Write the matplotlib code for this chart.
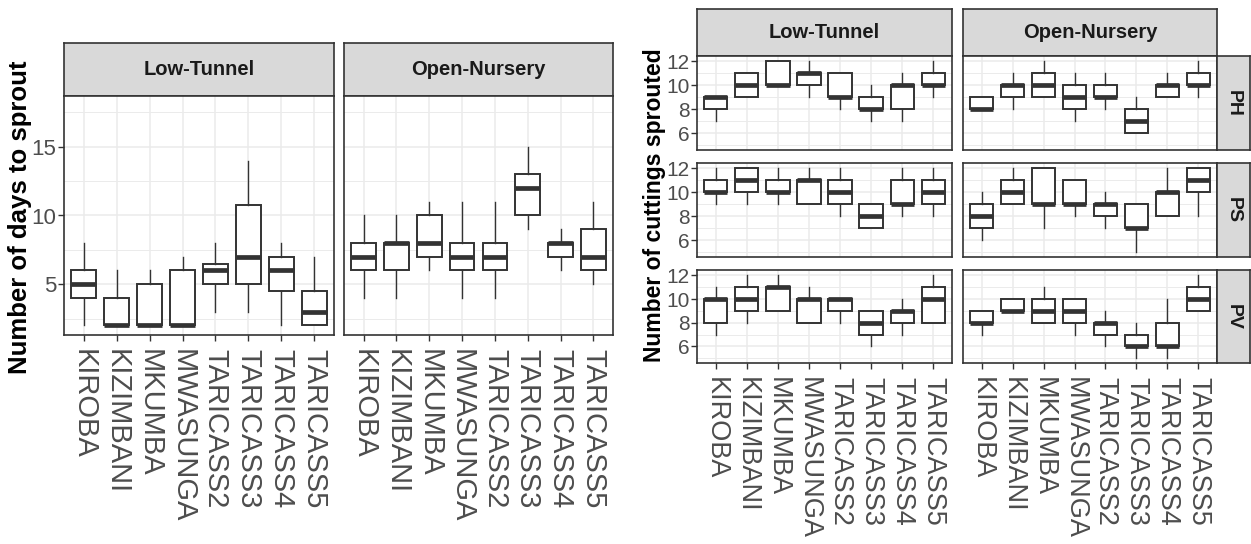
import matplotlib.pyplot as plt
import numpy as np

varieties = ['KIROBA', 'KIZIMBANI', 'MKUMBA', 'MWASUNGA',
             'TARICASS2', 'TARICASS3', 'TARICASS4', 'TARICASS5']

# each row: lower whisker, Q1, median, Q3, upper whisker
days_low_tunnel = [[2, 4, 5, 6, 8], [2, 2, 2, 4, 6], [2, 2, 2, 5, 6], [2, 2, 2, 6, 7],
                   [3, 5, 6, 6.5, 8], [3, 5, 7, 10.75, 14], [2, 4.5, 6, 7, 8], [2, 2, 3, 4.5, 7]]
days_open_nursery = [[4, 6, 7, 8, 10], [4, 6, 8, 8, 10], [6, 7, 8, 10, 11], [4, 6, 7, 8, 11],
                     [4, 6, 7, 8, 11], [9, 10, 12, 13, 15], [6, 7, 8, 8, 9], [5, 6, 7, 9, 11]]

ph_low_tunnel = [[7, 8, 9, 9, 9], [9, 9, 10, 11, 11], [10, 10, 10, 12, 12], [9, 10, 11, 11, 12],
                 [8, 9, 9, 11, 11], [7, 8, 8, 9, 10], [7, 8, 10, 10, 11], [9, 10, 10, 11, 12]]
ph_open_nursery = [[8, 8, 8, 9, 9], [8, 9, 10, 10, 11], [9, 9, 10, 11, 12], [7, 8, 9, 10, 11],
                   [8, 9, 9, 10, 11], [6, 6, 7, 8, 9], [9, 9, 10, 10, 11], [9, 10, 10, 11, 12]]
ps_low_tunnel = [[9, 10, 10, 11, 12], [9, 10, 11, 12, 12], [9, 10, 10, 11, 12], [9, 9, 11, 11, 12],
                 [8, 9, 10, 11, 12], [7, 7, 8, 9, 9], [8, 9, 9, 11, 12], [8, 9, 10, 11, 12]]
ps_open_nursery = [[6, 7, 8, 9, 10], [9, 9, 10, 11, 12], [7, 9, 9, 12, 12], [8, 9, 9, 11, 11],
                   [7, 8, 9, 9, 10], [5, 7, 7, 9, 9], [8, 8, 10, 10, 12], [8, 10, 11, 12, 12]]
pv_low_tunnel = [[7, 8, 10, 10, 11], [8, 9, 10, 11, 12], [9, 9, 11, 11, 12], [8, 8, 10, 10, 11],
                 [8, 9, 10, 10, 10], [6, 7, 8, 9, 9], [7, 8, 9, 9, 10], [8, 8, 10, 11, 12]]
pv_open_nursery = [[7, 8, 8, 9, 9], [9, 9, 9, 10, 10], [8, 8, 9, 10, 11], [7, 8, 9, 10, 10],
                   [6, 7, 8, 8, 9], [5, 6, 6, 7, 8], [5, 6, 6, 8, 10], [9, 9, 10, 11, 12]]

W, H = 1251, 544
EDGE = '#333333'
GRID = '#EBEBEB'
NARROW = ['Liberation Sans Narrow', 'Liberation Sans', 'DejaVu Sans']
REG = ['Liberation Sans', 'DejaVu Sans']

fig = plt.figure(figsize=(W / 100, H / 100), dpi=100)


def add_px(x0, y0, x1, y1):
    return fig.add_axes([x0 / W, 1 - y1 / H, (x1 - x0) / W, (y1 - y0) / H])


def strip(x0, y0, x1, y1, label, rot=0, size=14.5):
    ax = add_px(x0, y0, x1, y1)
    ax.set_facecolor('#D9D9D9')
    ax.set_xticks([])
    ax.set_yticks([])
    for s in ax.spines.values():
        s.set_color(EDGE)
        s.set_linewidth(1.2)
    fam = NARROW if rot == 0 else REG
    ax.text(0.5, 0.5, label, transform=ax.transAxes, ha='center', va='center',
            rotation=rot, fontsize=size, fontweight='bold', color='#1A1A1A', family=fam)
    return ax


def panel(x0, y0, x1, y1, rows, ylim, major, minor, show_y, show_x, xsize, ysize):
    ax = add_px(x0, y0, x1, y1)
    stats = [dict(whislo=r[0], q1=r[1], med=r[2], q3=r[3], whishi=r[4]) for r in rows]
    ax.bxp(stats, positions=np.arange(1, len(rows) + 1), widths=0.75,
           showfliers=False, showcaps=False, patch_artist=True, manage_ticks=False,
           boxprops=dict(facecolor='white', edgecolor=EDGE, linewidth=1.4),
           whiskerprops=dict(color=EDGE, linewidth=1.0),
           medianprops=dict(color=EDGE, linewidth=3.4, solid_capstyle='butt'))
    ax.set_xlim(0.4, len(rows) + 0.6)
    ax.set_ylim(*ylim)
    ax.set_axisbelow(True)
    ax.set_xticks(np.arange(1, len(rows) + 1))
    ax.set_yticks(major)
    ax.set_yticks(minor, minor=True)
    ax.grid(which='major', color=GRID, linewidth=1.1)
    ax.grid(which='minor', axis='y', color=GRID, linewidth=0.7)
    ax.tick_params(which='minor', length=0)
    ax.tick_params(which='major', length=4, width=1, color=EDGE)
    for s in ax.spines.values():
        s.set_color(EDGE)
        s.set_linewidth(1.2)
    if show_x:
        ax.set_xticklabels(varieties, rotation=270, fontsize=xsize, color='#4D4D4D',
                           family=REG, va='top', ha='center')
        ax.tick_params(axis='x', pad=6)
    else:
        ax.tick_params(axis='x', length=0, labelbottom=False)
    if show_y:
        ax.set_yticklabels([str(v) for v in major], fontsize=ysize, color='#4D4D4D',
                           family=NARROW)
        ax.tick_params(axis='y', pad=1.5)
    else:
        ax.tick_params(axis='y', length=0, labelleft=False)
    return ax


# left chart: days to sprout
strip(64, 43, 334, 96, 'Low-Tunnel')
strip(344, 43, 613, 96, 'Open-Nursery')
panel(64, 96, 334, 335, days_low_tunnel, (1.3, 18.7), [5, 10, 15], [2.5, 7.5, 12.5, 17.5],
      True, True, 21, 16)
panel(344, 96, 613, 335, days_open_nursery, (1.3, 18.7), [5, 10, 15], [2.5, 7.5, 12.5, 17.5],
      False, True, 21, 16)
fig.text(20 / W, 1 - 217 / H, 'Number of days to sprout', rotation=90, ha='center',
         va='center', fontsize=18.5, fontweight='bold', color='black', family=REG)

# right chart: cuttings sprouted
strip(697, 9, 952, 56, 'Low-Tunnel')
strip(963, 9, 1217, 56, 'Open-Nursery')
row_px = [(56, 150), (163, 257), (270, 363)]
row_names = ['PH', 'PS', 'PV']
row_data = [(ph_low_tunnel, ph_open_nursery), (ps_low_tunnel, ps_open_nursery),
            (pv_low_tunnel, pv_open_nursery)]
for i, ((y0, y1), name, (lt, on)) in enumerate(zip(row_px, row_names, row_data)):
    last = i == len(row_px) - 1
    panel(697, y0, 952, y1, lt, (4.6, 12.45), [6, 8, 10, 12], [5, 7, 9, 11],
          True, last, 19.5, 15)
    panel(963, y0, 1217, y1, on, (4.6, 12.45), [6, 8, 10, 12], [5, 7, 9, 11],
          False, last, 19.5, 15)
    strip(1217, y0, 1250, y1, name, rot=270, size=14)
fig.text(655 / W, 1 - 205 / H, 'Number of cuttings sprouted', rotation=90, ha='center',
         va='center', fontsize=16.5, fontweight='bold', color='black', family=REG)

fig.savefig('out.png', dpi=100, facecolor='white')
